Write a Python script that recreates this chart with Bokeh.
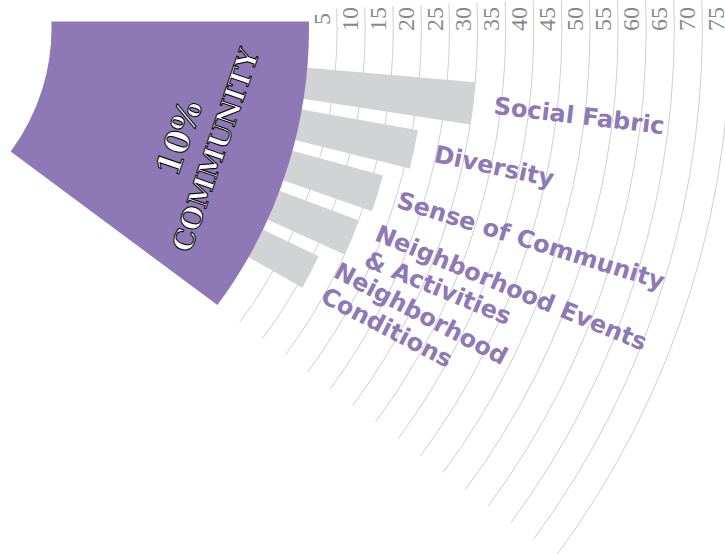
import math
from bokeh.plotting import figure
from bokeh.models import Range1d, Text
from bokeh.core.properties import value
from bokeh.embed import file_html
from bokeh.resources import INLINE

# ---------------- data ----------------
categories = [
    "Social Fabric",
    "Diversity",
    "Sense of Community",
    "Neighborhood Events\n& Activities",
    "Neighborhood\nConditions",
]
scores = [30, 21, 16.7, 15, 11]
tick_values = [5, 10, 15, 20, 25, 30, 35, 40, 45, 50, 55, 60, 65, 70, 75]
tick_labels = [str(v) for v in tick_values]
section_share = "10%"
section_name = "COMMUNITY"

# ---------------- geometry / style ----------------
CX, CY = -156.0, -27.6          # centre of the wheel (outside the view)
R0 = 464.5                      # radius of value 0
PX_PER_UNIT = 5.62
SECTOR_LOW = 36.6               # degrees below horizontal
SECTOR_HIGH = -2.3
BAR_FIRST = 4.9
BAR_PITCH = 5.2
BAR_WIDTH = 3.85
HUB_INNER = 207

PURPLE = "#8f78b6"
BAR_GRAY = "#d2d3d5"
GRID_GRAY = "#cfcfcf"
TICK_GRAY = "#888888"

W, H = 725, 554


def rad_of(v):
    return R0 + PX_PER_UNIT * v


def d2r(d):
    return math.radians(d)


p = figure(width=W, height=H, x_range=Range1d(0, W), y_range=Range1d(-H, 0),
           output_backend="svg", toolbar_location=None, min_border=0,
           x_axis_type=None, y_axis_type=None, outline_line_color=None,
           background_fill_color="white", border_fill_color="white")

# grid arcs
n = len(tick_values)
p.arc(x=[CX] * n, y=[CY] * n, radius=[rad_of(v) for v in tick_values],
      start_angle=d2r(-SECTOR_LOW), end_angle=d2r(-SECTOR_HIGH),
      line_color=GRID_GRAY, line_width=1)

# bars
tops = [BAR_FIRST + i * BAR_PITCH for i in range(len(scores))]
p.annular_wedge(x=[CX] * len(scores), y=[CY] * len(scores), inner_radius=R0 - 40,
                outer_radius=[rad_of(s) for s in scores],
                start_angle=[d2r(-(t + BAR_WIDTH)) for t in tops],
                end_angle=[d2r(-t) for t in tops],
                fill_color=BAR_GRAY, line_color=None)

# hub sector
p.annular_wedge(x=[CX], y=[CY], inner_radius=HUB_INNER, outer_radius=R0,
                start_angle=d2r(-SECTOR_LOW), end_angle=d2r(2.5),
                fill_color=PURPLE, line_color=None)
# crop of the sector top edge
p.quad(left=[-10], right=[314], bottom=[-21], top=[60], fill_color="white", line_color=None)

# tick labels (rotated, centred just inside their arc)
p.text(x=[CX + rad_of(v) - 14.5 for v in tick_values], y=[-18.5] * n, text=tick_labels,
       angle=math.pi / 2, text_align="center", text_baseline="middle",
       text_font=value("Liberation Sans Narrow"), text_font_size="24px",
       text_color=TICK_GRAY)

# category labels
mids = [t + BAR_WIDTH / 2 for t in tops]
lab_r = [rad_of(s) + 21 for s in scores]
p.text(x=[CX + r * math.cos(d2r(m)) for r, m in zip(lab_r, mids)],
       y=[CY - r * math.sin(d2r(m)) for r, m in zip(lab_r, mids)],
       text=categories, angle=[d2r(-m) for m in mids],
       text_align="left", text_baseline="middle",
       text_font=value("DejaVu Sans"), text_font_style="bold",
       text_font_size="24px", text_color=PURPLE, text_line_height=1.0)

# hub label
hub_angle = d2r(-18.2)
text_rot = d2r(71)
has_outline = "text_outline_color" in Text.properties()
for txt, r, size in [(section_share, 352, "33px"), (section_name, 391, "28px")]:
    x = CX + r * math.cos(hub_angle)
    y = CY + r * math.sin(hub_angle)
    kw = dict(text=[txt], angle=text_rot, text_align="center", text_baseline="middle",
              text_font=value("DejaVu Serif"), text_font_style="bold",
              text_font_size=size)
    if has_outline:
        p.text(x=[x], y=[y], text_color="white", text_outline_color="black", **kw)
    else:
        for dx, dy in [(-1.2, 0), (1.2, 0), (0, -1.2), (0, 1.2), (-1, -1), (1, 1), (-1, 1), (1, -1)]:
            p.text(x=[x + dx], y=[y + dy], text_color="black", **kw)
        p.text(x=[x], y=[y], text_color="white", **kw)

open("out.html", "w").write(file_html(p, INLINE))
